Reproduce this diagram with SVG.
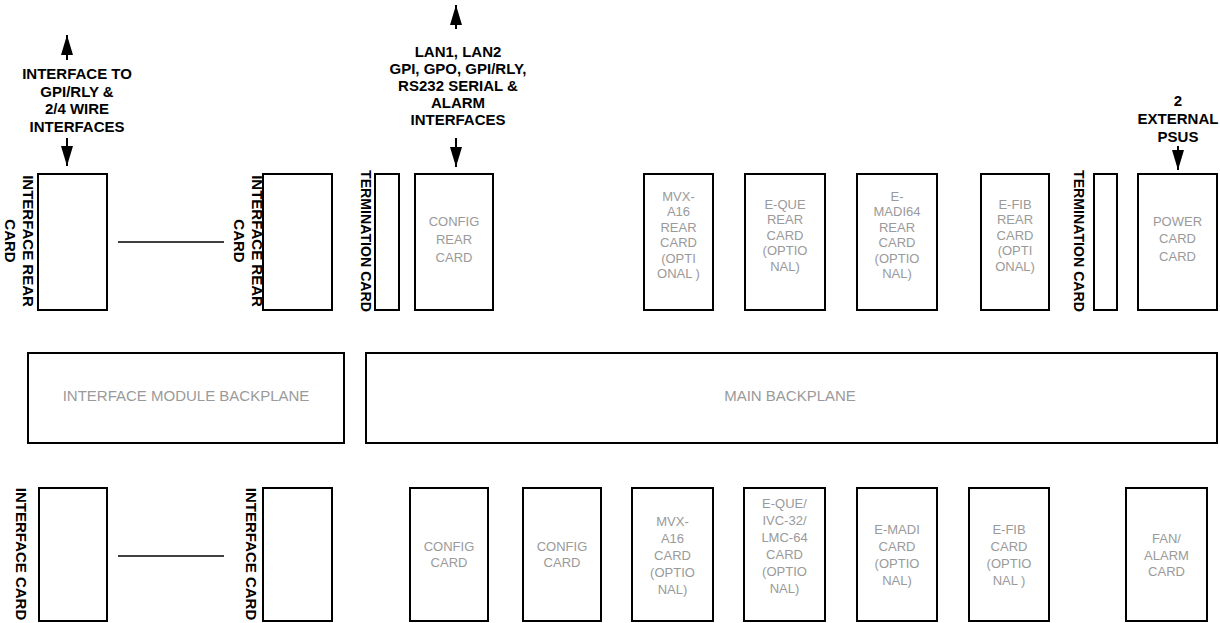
<svg xmlns="http://www.w3.org/2000/svg" width="1220" height="623" viewBox="0 0 1220 623">
<style>
.box{fill:#fff;stroke:#000;stroke-width:2}
.t{font-family:"Liberation Sans",Arial,sans-serif;font-size:13px;fill:#9a9a9a;text-anchor:middle}
.tb{font-family:"Liberation Sans",Arial,sans-serif;font-size:15px;fill:#9a9a9a;text-anchor:middle}
.k{font-family:"Liberation Sans",Arial,sans-serif;font-size:15px;font-weight:bold;fill:#000;text-anchor:middle}
.conn{stroke:#000;stroke-width:1.5;fill:none}
.arr{stroke:#000;stroke-width:2;fill:none;marker-end:url(#ah)}
</style>
<defs>
<marker id="ah" markerUnits="userSpaceOnUse" viewBox="0 0 20 12" refX="20" refY="6" markerWidth="20" markerHeight="12" orient="auto">
<path d="M0,0 L20,6 L0,12 z" fill="#000"/>
</marker>
</defs>
<rect width="1220" height="623" fill="#fff"/>

<g id="connectors">
<line class="conn" x1="118" y1="242" x2="224" y2="242"/>
<line class="conn" x1="118" y1="556" x2="224" y2="556"/>
<line class="arr" x1="67" y1="60" x2="67" y2="35"/>
<line class="arr" x1="67" y1="138" x2="67" y2="166"/>
<line class="arr" x1="456" y1="29" x2="456" y2="5"/>
<line class="arr" x1="456" y1="138" x2="456" y2="167"/>
<line class="arr" x1="1178" y1="146" x2="1178" y2="170"/>
</g>

<g id="label-left">
<text class="k" x="77" y="79">INTERFACE TO</text>
<text class="k" x="77" y="97">GPI/RLY &amp;</text>
<text class="k" x="77" y="114">2/4 WIRE</text>
<text class="k" x="77" y="132">INTERFACES</text>
</g>
<g id="label-mid">
<text class="k" x="458" y="57">LAN1, LAN2</text>
<text class="k" x="458" y="74">GPI, GPO, GPI/RLY,</text>
<text class="k" x="458" y="91">RS232 SERIAL &amp;</text>
<text class="k" x="458" y="108">ALARM</text>
<text class="k" x="458" y="125">INTERFACES</text>
</g>
<g id="label-right">
<text class="k" x="1178" y="106">2</text>
<text class="k" x="1178" y="124">EXTERNAL</text>
<text class="k" x="1178" y="142">PSUS</text>
</g>

<g id="interface-rear-1">
<rect class="box" x="38" y="174" width="69" height="136"/>
<text class="k" transform="translate(23,241) rotate(90)"><tspan x="0" y="0">INTERFACE REAR</tspan><tspan x="0" y="18">CARD</tspan></text>
</g>
<g id="interface-rear-2">
<rect class="box" x="263" y="174" width="69" height="136"/>
<text class="k" transform="translate(252,241) rotate(90)"><tspan x="0" y="0">INTERFACE REAR</tspan><tspan x="0" y="18">CARD</tspan></text>
</g>
<g id="termination-1">
<rect class="box" x="375" y="174" width="24" height="136"/>
<text class="k" transform="translate(361,241) rotate(90)" textLength="142" lengthAdjust="spacingAndGlyphs">TERMINATION CARD</text>
</g>
<g id="config-rear">
<rect class="box" x="415" y="174" width="78" height="136"/>
<text class="t" x="454" y="225.5">CONFIG</text>
<text class="t" x="454" y="243.5">REAR</text>
<text class="t" x="454" y="261.5">CARD</text>
</g>
<g id="mvx-rear">
<rect class="box" x="644" y="174" width="69" height="136"/>
<text class="t" x="678.5" y="200.5">MVX-</text>
<text class="t" x="678.5" y="216">A16</text>
<text class="t" x="678.5" y="231.5">REAR</text>
<text class="t" x="678.5" y="247">CARD</text>
<text class="t" x="678.5" y="262.5">(OPTI</text>
<text class="t" x="678.5" y="278">ONAL )</text>
</g>
<g id="eque-rear">
<rect class="box" x="745" y="174" width="80" height="136"/>
<text class="t" x="785" y="208.5">E-QUE</text>
<text class="t" x="785" y="224">REAR</text>
<text class="t" x="785" y="239.5">CARD</text>
<text class="t" x="785" y="255">(OPTIO</text>
<text class="t" x="785" y="270.5">NAL)</text>
</g>
<g id="emadi64-rear">
<rect class="box" x="857" y="174" width="80" height="136"/>
<text class="t" x="897" y="200.5">E-</text>
<text class="t" x="897" y="216">MADI64</text>
<text class="t" x="897" y="231.5">REAR</text>
<text class="t" x="897" y="247">CARD</text>
<text class="t" x="897" y="262.5">(OPTIO</text>
<text class="t" x="897" y="278">NAL)</text>
</g>
<g id="efib-rear">
<rect class="box" x="981" y="174" width="68" height="136"/>
<text class="t" x="1015" y="208.5">E-FIB</text>
<text class="t" x="1015" y="224">REAR</text>
<text class="t" x="1015" y="239.5">CARD</text>
<text class="t" x="1015" y="255">(OPTI</text>
<text class="t" x="1015" y="270.5">ONAL)</text>
</g>
<g id="termination-2">
<rect class="box" x="1094" y="174" width="23" height="136"/>
<text class="k" transform="translate(1074,241) rotate(90)" textLength="142" lengthAdjust="spacingAndGlyphs">TERMINATION CARD</text>
</g>
<g id="power-card">
<rect class="box" x="1138" y="174" width="79" height="136"/>
<text class="t" x="1177.5" y="225.5">POWER</text>
<text class="t" x="1177.5" y="243">CARD</text>
<text class="t" x="1177.5" y="260.5">CARD</text>
</g>

<g id="interface-backplane">
<rect class="box" x="28" y="353" width="316" height="90"/>
<text class="tb" x="186" y="401">INTERFACE MODULE BACKPLANE</text>
</g>
<g id="main-backplane">
<rect class="box" x="366" y="353" width="851" height="90"/>
<text class="tb" x="790" y="401">MAIN BACKPLANE</text>
</g>

<g id="interface-card-1">
<rect class="box" x="39" y="488" width="68" height="133"/>
<text class="k" transform="translate(16,554) rotate(90)">INTERFACE CARD</text>
</g>
<g id="interface-card-2">
<rect class="box" x="263" y="488" width="69" height="133"/>
<text class="k" transform="translate(246,554) rotate(90)">INTERFACE CARD</text>
</g>
<g id="config-card-1">
<rect class="box" x="410" y="488" width="78" height="133"/>
<text class="t" x="449" y="550.5">CONFIG</text>
<text class="t" x="449" y="566.5">CARD</text>
</g>
<g id="config-card-2">
<rect class="box" x="523" y="488" width="78" height="133"/>
<text class="t" x="562" y="550.5">CONFIG</text>
<text class="t" x="562" y="566.5">CARD</text>
</g>
<g id="mvx-card">
<rect class="box" x="632" y="488" width="81" height="133"/>
<text class="t" x="672.5" y="525.5">MVX-</text>
<text class="t" x="672.5" y="542.5">A16</text>
<text class="t" x="672.5" y="559.5">CARD</text>
<text class="t" x="672.5" y="576.5">(OPTIO</text>
<text class="t" x="672.5" y="593.5">NAL)</text>
</g>
<g id="eque-card">
<rect class="box" x="744" y="488" width="81" height="133"/>
<text class="t" x="784.5" y="507.5">E-QUE/</text>
<text class="t" x="784.5" y="524.5">IVC-32/</text>
<text class="t" x="784.5" y="541.5">LMC-64</text>
<text class="t" x="784.5" y="558.5">CARD</text>
<text class="t" x="784.5" y="575.5">(OPTIO</text>
<text class="t" x="784.5" y="592.5">NAL)</text>
</g>
<g id="emadi-card">
<rect class="box" x="857" y="488" width="80" height="133"/>
<text class="t" x="897" y="533.5">E-MADI</text>
<text class="t" x="897" y="550.5">CARD</text>
<text class="t" x="897" y="567.5">(OPTIO</text>
<text class="t" x="897" y="584.5">NAL)</text>
</g>
<g id="efib-card">
<rect class="box" x="969" y="488" width="80" height="133"/>
<text class="t" x="1009" y="533.5">E-FIB</text>
<text class="t" x="1009" y="550.5">CARD</text>
<text class="t" x="1009" y="567.5">(OPTIO</text>
<text class="t" x="1009" y="584.5">NAL )</text>
</g>
<g id="fan-alarm-card">
<rect class="box" x="1126" y="488" width="81" height="133"/>
<text class="t" x="1166.5" y="542.5">FAN/</text>
<text class="t" x="1166.5" y="559.5">ALARM</text>
<text class="t" x="1166.5" y="576">CARD</text>
</g>
</svg>
